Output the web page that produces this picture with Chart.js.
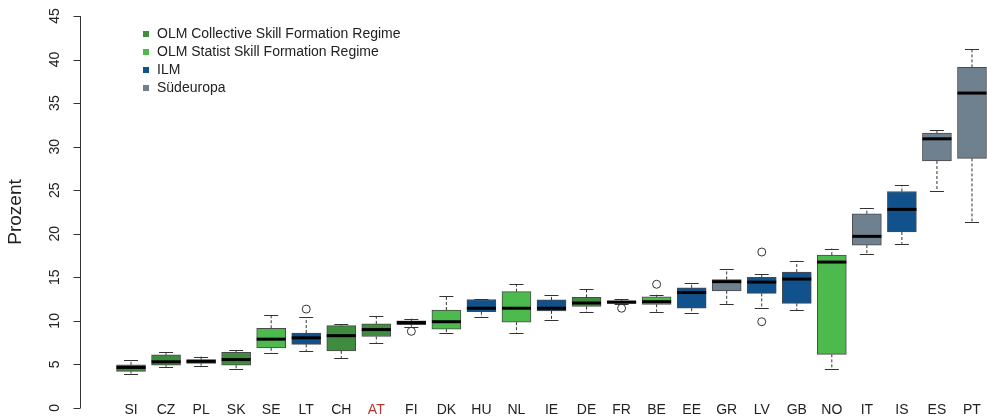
<!DOCTYPE html>
<html>
<head>
<meta charset="utf-8">
<script src="https://cdn.jsdelivr.net/npm/chart.js@4/dist/chart.umd.min.js"></script>
<style>
  html, body { margin: 0; padding: 0; overflow: hidden; background: #fff; }
  #wrap { position: relative; width: 1000px; height: 419px; }
</style>
</head>
<body>
<div id="wrap"><canvas id="chart"></canvas></div>
<script>
const countries = ['SI', 'CZ', 'PL', 'SK', 'SE', 'LT', 'CH', 'AT', 'FI', 'DK', 'HU', 'NL', 'IE',
  'DE', 'FR', 'BE', 'EE', 'GR', 'LV', 'GB', 'NO', 'IT', 'IS', 'ES', 'PT'];
// 0 = OLM collective, 1 = OLM statist, 2 = ILM, 3 = Südeuropa
const regime = [0, 0, 0, 0, 1, 2, 0, 0, 0, 1, 2, 1, 2, 0, 2, 1, 2, 3, 2, 2, 1, 3, 2, 3, 3];

const whiskerLow = [3.95, 4.7, 4.85, 4.5, 6.3, 6.5, 5.75, 7.5, 9.35, 8.6, 10.4, 8.65, 10.05,
  11.0, 11.9, 11.05, 10.85, 11.95, 11.5, 11.2, 4.5, 17.7, 18.85, 24.95, 21.3];
const q1 = [4.2, 4.9, 5.1, 4.9, 6.9, 7.3, 6.55, 8.2, 9.55, 9.05, 11.05, 9.85, 11.15,
  11.65, 12.0, 11.9, 11.45, 13.45, 13.15, 12.0, 6.15, 18.7, 20.2, 28.35, 28.65];
const median = [4.65, 5.3, 5.35, 5.55, 7.9, 8.05, 8.3, 9.0, 9.8, 9.9, 11.45, 11.45, 11.45,
  12.05, 12.15, 12.2, 13.25, 14.5, 14.45, 14.8, 16.75, 19.7, 22.8, 30.9, 36.15];
const q3 = [4.95, 6.1, 5.55, 6.4, 9.15, 8.6, 9.45, 9.65, 10.0, 11.25, 12.45, 13.35, 12.4,
  12.7, 12.3, 12.75, 13.8, 14.75, 15.0, 15.6, 17.55, 22.3, 24.85, 31.55, 39.1];
const whiskerHigh = [5.5, 6.4, 5.9, 6.65, 10.7, 10.4, 9.6, 10.6, 10.25, 12.8, 12.5, 14.2, 12.95,
  13.6, 12.5, 13.0, 14.3, 15.9, 15.4, 16.9, 18.3, 22.95, 25.55, 31.95, 41.2];
const outliers = [[], [], [], [], [], [11.35], [], [], [8.8], [], [], [], [],
  [], [11.45], [14.2], [], [], [17.9, 9.9], [], [], [], [], [], []];

const regimeNames = ['OLM Collective Skill Formation Regime', 'OLM Statist Skill Formation Regime', 'ILM', 'Südeuropa'];
const regimeColors = ['#3f8b3f', '#4dba4d', '#11528c', '#6f808e'];
const yTicks = [0, 5, 10, 15, 20, 25, 30, 35, 40, 45];

const FONT = '"Liberation Sans", Arial, sans-serif';

const boxExtras = {
  id: 'boxExtras',
  afterDatasetsDraw(chart) {
    const ctx = chart.ctx;
    const xs = chart.scales.x;
    const ys = chart.scales.y;
    ctx.save();
    countries.forEach((c, i) => {
      const x = xs.getPixelForValue(i);
      // whiskers
      ctx.strokeStyle = '#333';
      ctx.lineWidth = 1;
      ctx.setLineDash([3, 2]);
      ctx.beginPath();
      ctx.moveTo(x, ys.getPixelForValue(q3[i]));
      ctx.lineTo(x, ys.getPixelForValue(whiskerHigh[i]));
      ctx.moveTo(x, ys.getPixelForValue(q1[i]));
      ctx.lineTo(x, ys.getPixelForValue(whiskerLow[i]));
      ctx.stroke();
      ctx.setLineDash([]);
      ctx.beginPath();
      [whiskerHigh[i], whiskerLow[i]].forEach(v => {
        const y = Math.round(ys.getPixelForValue(v)) + 0.5;
        ctx.moveTo(x - 7, y);
        ctx.lineTo(x + 7, y);
      });
      ctx.stroke();
      // median
      ctx.strokeStyle = '#000';
      ctx.lineWidth = 3;
      ctx.beginPath();
      const ym = ys.getPixelForValue(median[i]);
      ctx.moveTo(x - 14.5, ym);
      ctx.lineTo(x + 14.5, ym);
      ctx.stroke();
      // outliers
      ctx.strokeStyle = '#333';
      ctx.lineWidth = 1;
      outliers[i].forEach(v => {
        ctx.beginPath();
        ctx.arc(x, ys.getPixelForValue(v), 4, 0, Math.PI * 2);
        ctx.stroke();
      });
    });
    ctx.restore();
  },
  afterDraw(chart) {
    const ctx = chart.ctx;
    const ys = chart.scales.y;
    const axisX = 80.5;
    ctx.save();
    // y axis (drawn by hand so it sits apart from the boxes, R style)
    ctx.strokeStyle = '#333';
    ctx.lineWidth = 1;
    ctx.beginPath();
    ctx.moveTo(axisX, ys.getPixelForValue(yTicks[0]));
    ctx.lineTo(axisX, ys.getPixelForValue(yTicks[yTicks.length - 1]));
    yTicks.forEach(t => {
      const y = Math.round(ys.getPixelForValue(t)) + 0.5;
      ctx.moveTo(axisX, y);
      ctx.lineTo(axisX - 7, y);
    });
    ctx.stroke();
    ctx.fillStyle = '#222';
    ctx.font = '14px ' + FONT;
    ctx.textAlign = 'center';
    ctx.textBaseline = 'middle';
    yTicks.forEach(t => {
      ctx.save();
      ctx.translate(55, ys.getPixelForValue(t));
      ctx.rotate(-Math.PI / 2);
      ctx.fillText(String(t), 0, 0);
      ctx.restore();
    });
    ctx.save();
    ctx.font = '19px ' + FONT;
    ctx.translate(16, 212);
    ctx.rotate(-Math.PI / 2);
    ctx.fillText('Prozent', 0, 0);
    ctx.restore();
    // legend
    ctx.font = '14px ' + FONT;
    ctx.textAlign = 'left';
    regimeNames.forEach((name, k) => {
      const y = 34 + k * 18;
      ctx.fillStyle = regimeColors[k];
      ctx.fillRect(143, y - 3, 6, 6);
      ctx.fillStyle = '#222';
      ctx.fillText(name, 157, y);
    });
    ctx.restore();
  }
};

new Chart(document.getElementById('chart'), {
  type: 'bar',
  data: {
    labels: countries,
    datasets: [{
      data: countries.map((c, i) => [q1[i], q3[i]]),
      backgroundColor: regime.map(r => regimeColors[r]),
      borderColor: '#4a4a4a',
      borderWidth: 1,
      borderSkipped: false,
      barThickness: 29
    }]
  },
  options: {
    responsive: true,
    maintainAspectRatio: false,
    animation: false,
    layout: { padding: { left: 113.5, right: 10.5, top: 16, bottom: 0 } },
    plugins: { legend: { display: false }, tooltip: { enabled: false } },
    scales: {
      x: {
        grid: { display: false, drawTicks: false },
        border: { display: false },
        afterFit: scale => { scale.height = 15.4; },
        ticks: {
          autoSkip: false,
          maxRotation: 0,
          padding: -2,
          font: { size: 14, family: FONT },
          color: ctx => ctx.tick && ctx.tick.label === 'AT' ? '#b5392c' : '#222'
        }
      },
      y: {
        display: false,
        // 0 sits just below the plot area so the country labels can overlap it
        min: 0.5,
        max: 45
      }
    }
  },
  plugins: [boxExtras]
});
</script>
</body>
</html>
